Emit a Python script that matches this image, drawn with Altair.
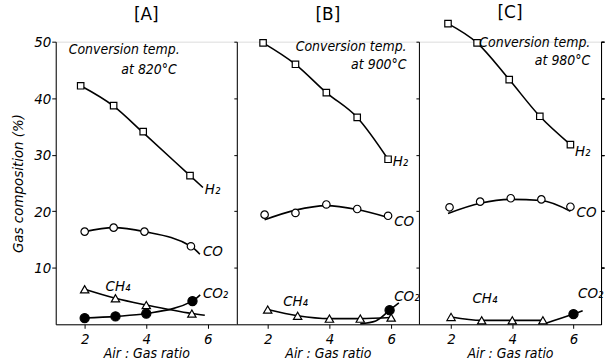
import altair as alt
import pandas as pd

# ---------------- data ----------------
panels = ["A", "B", "C"]
temps = ["820", "900", "980"]
gases = ["H2", "CO", "CH4", "CO2"]
gas_labels = {"H2": "H\u2082", "CO": "CO", "CH4": "CH\u2084", "CO2": "CO\u2082"}

# measured points (markers)
A_H2_x = [1.87, 2.94, 3.9, 5.42];     A_H2_y = [42.2, 38.7, 34.1, 26.3]
A_CO_x = [2.0, 2.94, 3.94, 5.45];     A_CO_y = [16.4, 17.1, 16.4, 13.8]
A_CH4_x = [2.0, 3.0, 4.0, 5.48];      A_CH4_y = [6.2, 4.6, 3.4, 1.9]
A_CO2_x = [2.0, 3.0, 4.0, 5.5];       A_CO2_y = [1.1, 1.4, 1.9, 4.1]

B_H2_x = [1.85, 2.9, 3.9, 4.9, 5.9];  B_H2_y = [49.8, 46.0, 41.0, 36.6, 29.2]
B_CO_x = [1.9, 2.9, 3.9, 4.9, 5.9];   B_CO_y = [19.4, 19.7, 21.2, 20.4, 19.2]
B_CH4_x = [2.0, 2.97, 4.0, 5.0, 6.0]; B_CH4_y = [2.6, 1.5, 1.0, 1.0, 1.2]
B_CO2_x = [5.95];                     B_CO2_y = [2.5]

C_H2_x = [1.9, 2.85, 3.9, 4.9, 5.9];  C_H2_y = [53.2, 49.8, 43.3, 36.8, 31.8]
C_CO_x = [1.95, 2.95, 3.95, 4.95, 5.9]; C_CO_y = [20.7, 21.7, 22.3, 22.1, 20.8]
C_CH4_x = [2.0, 3.0, 4.0, 5.0];       C_CH4_y = [1.3, 0.7, 0.7, 0.7]
C_CO2_x = [6.0];                      C_CO2_y = [1.8]

# drawn curves (as traced on the figure)
A_H2_cx = [1.87, 2.94, 3.9, 5.42, 5.84]; A_H2_cy = [42.2, 38.6, 33.9, 26.3, 24.2]
A_CO_cx = [2.0, 2.94, 3.94, 5.45, 5.74]; A_CO_cy = [16.4, 17.1, 16.4, 13.8, 12.4]
A_CH4_cx = [2.0, 3.0, 4.0, 5.48, 5.9];   A_CH4_cy = [6.2, 4.6, 3.4, 1.9, 1.6]
A_CO2_cx = [2.0, 3.0, 4.0, 5.5, 5.75];   A_CO2_cy = [1.1, 1.4, 1.9, 4.1, 5.2]

B_H2_cx = [1.85, 2.9, 3.9, 4.9, 5.9];   B_H2_cy = [49.8, 46.0, 41.0, 36.6, 29.2]
B_CO_cx = [1.9, 2.9, 3.9, 4.9, 5.9];    B_CO_cy = [18.5, 20.2, 21.0, 20.3, 18.9]
B_CH4_cx = [2.0, 2.97, 4.0, 5.0, 6.0];  B_CH4_cy = [2.6, 1.5, 1.0, 1.0, 1.2]
B_CO2_cx = [5.0, 5.5, 5.95, 6.25];      B_CO2_cy = [0.1, 0.6, 2.5, 3.8]

C_H2_cx = [1.9, 2.85, 3.9, 4.9, 5.9];   C_H2_cy = [53.2, 49.8, 43.3, 36.8, 31.8]
C_CO_cx = [1.9, 2.95, 3.95, 4.95, 5.9]; C_CO_cy = [19.6, 21.4, 22.1, 21.9, 20.0]
C_CH4_cx = [2.0, 3.0, 4.0, 5.0];        C_CH4_cy = [1.3, 0.7, 0.7, 0.7]
C_CO2_cx = [5.1, 6.0, 6.3];             C_CO2_cy = [0.2, 1.8, 2.4]

# label anchors (data units)
A_lab_x = [5.9, 5.84, 2.68, 5.84];  A_lab_y = [23.9, 13.0, 6.7, 5.5]
B_lab_x = [6.05, 6.1, 2.5, 6.1];    B_lab_y = [28.8, 18.3, 4.2, 5.0]
C_lab_x = [6.05, 6.1, 2.7, 6.15];   C_lab_y = [30.6, 19.8, 4.6, 5.6]
note_x = {"A": (1.48, 3.19), "B": (6.5, 6.5), "C": (6.55, 6.55)}
note_y = {"A": (48.6, 45.0), "B": (49.1, 45.9), "C": (49.8, 46.5)}
note_align = {"A": "left", "B": "right", "C": "right"}
x_domains = {"A": [1.06, 6.94], "B": [1.0, 6.9], "C": [0.95, 6.9]}
title_dy = {"A": 0, "B": -2, "C": 15}

g = globals()
FONT = "DejaVu Sans Condensed, Liberation Sans Narrow, Liberation Sans, sans-serif"

def build_panel(i, p):
    mk, cv, lb = [], [], []
    for j, gas in enumerate(gases):
        for xv, yv in zip(g[f"{p}_{gas}_x"], g[f"{p}_{gas}_y"]):
            mk.append({"gas": gas, "x": xv, "y": yv})
        for k, (xv, yv) in enumerate(zip(g[f"{p}_{gas}_cx"], g[f"{p}_{gas}_cy"])):
            cv.append({"gas": gas, "x": xv, "y": yv, "o": k})
        lb.append({"gas": gas, "x": g[f"{p}_lab_x"][j], "y": g[f"{p}_lab_y"][j],
                   "t": gas_labels[gas]})
    mk, cv, lb = pd.DataFrame(mk), pd.DataFrame(cv), pd.DataFrame(lb)
    nt = pd.DataFrame({"x": note_x[p], "y": note_y[p],
                       "t": ["Conversion  temp.", f"at  {temps[i]}\u00b0C"]})

    xs = alt.Scale(domain=x_domains[p], nice=False, zero=False)
    ys = alt.Scale(domain=[0, 50], nice=False, zero=True)
    xaxis = alt.Axis(values=[2, 4, 6], title="Air : Gas ratio", grid=False,
                     tickSize=4, tickColor="black", domainColor="black",
                     labelFont=FONT, labelFontSize=15, labelFontStyle="italic",
                     labelColor="black", labelPadding=3,
                     titleFont=FONT, titleFontSize=14, titleFontStyle="italic",
                     titleFontWeight="normal", titleColor="black", titlePadding=0)
    if i == 0:
        yaxis = alt.Axis(values=[10, 20, 30, 40, 50], title="Gas composition  (%)",
                         grid=False, tickSize=4, tickColor="black", domainColor="black",
                         labelFont=FONT, labelFontSize=15, labelFontStyle="italic",
                         labelColor="black", labelPadding=1,
                         titleFont=FONT, titleFontSize=15, titleFontStyle="italic",
                         titleFontWeight="normal", titleColor="black", titlePadding=8)
    else:
        yaxis = alt.Axis(values=[10, 20, 30, 40, 50], title=None, labels=False,
                         grid=False, tickSize=3, tickColor="black", domainColor="black")

    X = alt.X("x:Q", scale=xs, axis=xaxis)
    Y = alt.Y("y:Q", scale=ys, axis=yaxis)

    lines = alt.Chart(cv).mark_line(interpolate="monotone", color="black",
                                    strokeWidth=1.6, clip=False).encode(
        x=X, y=Y, detail="gas:N", order="o:Q")
    pts = alt.Chart(mk).mark_point(filled=True, stroke="black", strokeWidth=1.2,
                                   opacity=1, clip=False).encode(
        x=X, y=Y,
        shape=alt.Shape("gas:N", scale=alt.Scale(domain=gases,
                        range=["square", "circle", "triangle-up", "circle"]), legend=None),
        fill=alt.Fill("gas:N", scale=alt.Scale(domain=gases,
                      range=["white", "white", "white", "black"]), legend=None),
        size=alt.Size("gas:N", scale=alt.Scale(domain=gases,
                      range=[42, 85, 42, 30]), legend=None))
    labs = alt.Chart(lb).mark_text(align="left", baseline="middle", font=FONT,
                                   fontSize=15, fontStyle="italic", color="black").encode(
        x=X, y=Y, text="t:N")
    notes = alt.Chart(nt).mark_text(align=note_align[p],
                                    baseline="middle", font=FONT, fontSize=14,
                                    fontStyle="italic", color="black").encode(
        x=X, y=Y, text="t:N")
    layers = [lines, pts, labs, notes]
    if p == "C":
        border = alt.Chart(lb).mark_text(opacity=0).encode(
            x=X,
            y=alt.Y("y:Q", scale=ys, axis=alt.Axis(orient="right", labels=False,
                    ticks=False, title=None, grid=False, domainColor="black",
                    values=[10, 20, 30, 40, 50])),
            text="t:N")
        layers.append(border)
    ch = alt.layer(*layers).properties(
        width=[182, 183, 183][i], height=284,
        title=alt.TitleParams(f"[{p}]", font="DejaVu Sans", fontSize=17,
                              fontWeight="normal", color="black", offset=11,
                              dy=title_dy[p]))
    if p == "C":
        ch = ch.resolve_axis(y="independent")
    return ch

charts = [build_panel(i, p) for i, p in enumerate(panels)]
chart = alt.hconcat(*charts, spacing=0, bounds="flush").configure_view(
    stroke=None).configure(padding={"left": 10, "top": 2, "right": 2, "bottom": 0},
                           background="white")

chart.save("out.html", embed_options={"renderer": "svg", "actions": False})
